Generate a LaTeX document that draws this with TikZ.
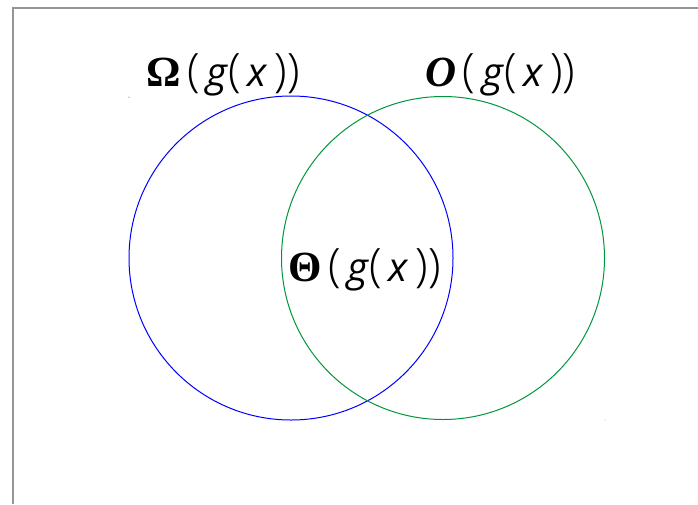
\documentclass[tikz,border=0pt]{standalone}
\usepackage{fontspec}
\setmainfont{Open Sans}
\newfontfamily\symfont{Liberation Serif}
\newfontfamily\parfont{Open Sans Light}
\definecolor{vennblue}{RGB}{0,0,255}
\definecolor{venngreen}{RGB}{0,150,60}
\definecolor{framegray}{RGB}{150,150,150}
\newcommand{\pl}{{\parfont\fontsize{46}{50}\selectfont(}}
\newcommand{\pr}{{\parfont\fontsize{46}{50}\selectfont)}}
\newcommand{\lbl}[1]{{\fontsize{43}{48}\selectfont#1}\,\pl\,\textit{g}\pl\,\textit{x}\,\pr\pr}
\begin{document}
\begin{tikzpicture}[x=1pt,y=-1pt,
  circ/.style={draw,line width=1pt},
  lab/.style={inner sep=0pt,font=\fontsize{40}{46}\selectfont}]
\useasboundingbox (0,0) rectangle (698,504);
\coordinate (fl) at (13,504);
\coordinate (fc) at (13,8);
\coordinate (fr) at (698,8);
\draw[framegray,line width=1.3pt] (fl) -- (fc) -- (fr);
\node[circ,vennblue,circle,minimum size=324pt,inner sep=0pt] (omega) at (291,258) {};
\node[circ,venngreen,circle,minimum size=323pt,inner sep=0pt] (bigo) at (443,258) {};
\node[lab,anchor=base west] (lomega) at (146,86) {\lbl{{\symfont\bfseries Ω}}};
\node[lab,anchor=base west] (lbigo) at (425,86) {\lbl{{\symfont\bfseries\itshape O}}};
\node[lab,anchor=base west] (ltheta) at (288,281) {\lbl{{\symfont\bfseries Θ}}};
\fill[vennblue] (129,97) circle (0.5pt);
\fill[venngreen!50] (605,420) circle (0.5pt);
\end{tikzpicture}
\end{document}
